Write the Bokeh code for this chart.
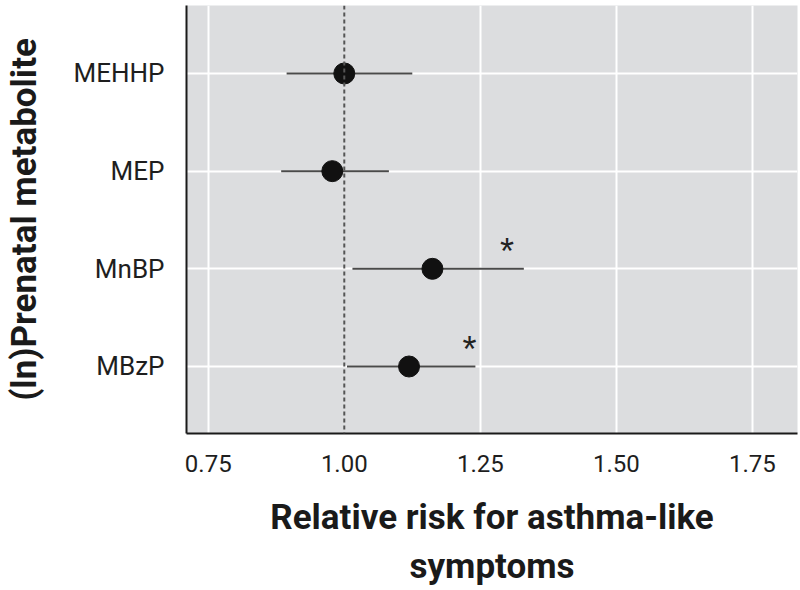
from bokeh.plotting import figure
from bokeh.models import FixedTicker, Span, ColumnDataSource
from bokeh.embed import file_html
from bokeh.resources import INLINE
from bokeh.core.properties import value

# ---- data ----
metabolites = ["MEHHP", "MEP", "MnBP", "MBzP"]
relative_risk = [1.00, 0.978, 1.162, 1.119]
ci_low = [0.894, 0.884, 1.015, 1.005]
ci_high = [1.125, 1.082, 1.330, 1.241]
star_labels = ["MnBP", "MBzP"]
star_x = [1.299, 1.230]
x_ticks = [0.75, 1.00, 1.25, 1.50, 1.75]
x_tick_labels = ["0.75", "1.00", "1.25", "1.50", "1.75"]
reference_value = 1.0

n = len(metabolites)
ypos = [n - i for i in range(n)]
ymap = dict(zip(metabolites, ypos))

src = ColumnDataSource(dict(y=ypos, rr=relative_risk, lo=ci_low, hi=ci_high))
star_src = ColumnDataSource(dict(x=star_x, y=[ymap[m] for m in star_labels],
                                 t=["*"] * len(star_x)))

p = figure(width=800, height=590, output_backend="svg", toolbar_location=None,
           x_range=(0.710, 1.833), y_range=(0.314, 4.696),
           min_border_left=186, min_border_right=3, min_border_top=5,
           min_border_bottom=157)

p.background_fill_color = "#dcdddf"
p.border_fill_color = "white"
p.outline_line_color = None

# grid
p.xgrid.ticker = FixedTicker(ticks=[t for t in x_ticks if t != reference_value])
p.ygrid.ticker = FixedTicker(ticks=ypos)
for g in (p.xgrid, p.ygrid):
    g.grid_line_color = "white"
    g.grid_line_width = 2

# reference line
p.add_layout(Span(location=reference_value, dimension="height",
                  line_color="#555555", line_dash="4 3", line_width=2))

# CIs and points
p.segment(x0="lo", y0="y", x1="hi", y1="y", source=src,
          line_color="#4a4a4a", line_width=2)
p.scatter(x="rr", y="y", source=src, size=21, fill_color="#111111",
          line_color="#111111")

p.text(x="x", y="y", text="t", source=star_src, text_align="center",
       text_baseline="middle", y_offset=-17, text_font=value("Liberation Sans"),
       text_font_size="36px", text_color="#222222")

# axes
p.xaxis.ticker = FixedTicker(ticks=x_ticks)
p.xaxis.major_label_overrides = dict(zip(x_ticks, x_tick_labels))
p.yaxis.ticker = FixedTicker(ticks=ypos)
p.yaxis.major_label_overrides = dict(zip(ypos, metabolites))

for ax in (p.xaxis[0], p.yaxis[0]):
    ax.axis_line_color = "#1a1a1a"
    ax.axis_line_width = 2
    ax.major_tick_line_color = None
    ax.minor_tick_line_color = None
    ax.major_label_text_color = "#1e1e1e"
    ax.axis_label_text_color = "#1a1a1a"
    ax.axis_label_text_font = "Roboto"
    ax.axis_label_text_font_style = "bold"
    ax.axis_label_text_font_size = "35px"
    ax.axis_label_text_line_height = 1.2

p.xaxis.major_label_text_font = "Roboto"
p.xaxis.major_label_text_font_size = "24px"
p.xaxis.major_label_standoff = 15
p.xaxis.axis_label = "Relative risk for asthma-like\nsymptoms"
p.xaxis.axis_label_standoff = 22

p.yaxis.major_label_text_font = "Roboto"
p.yaxis.major_label_text_font_size = "26px"
p.yaxis.major_label_standoff = 16
p.yaxis.axis_label = "(ln)Prenatal metabolite"
p.yaxis.axis_label_standoff = 26

open("out.html", "w").write(file_html(p, INLINE))
